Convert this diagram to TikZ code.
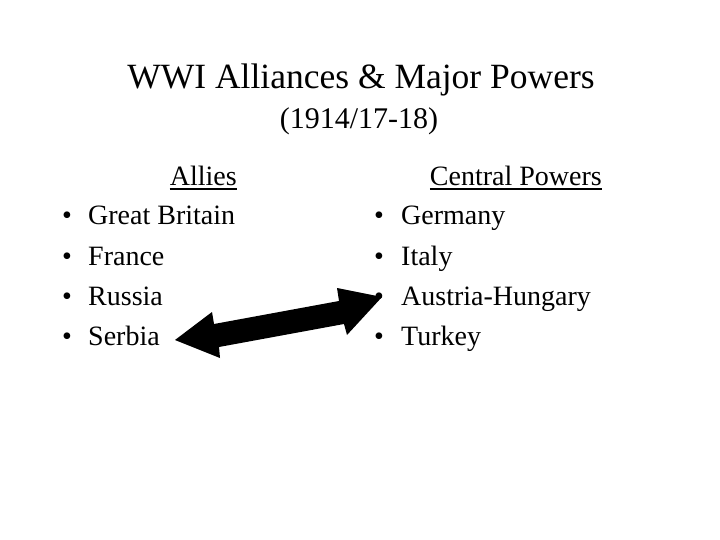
\documentclass[tikz,border=0pt]{standalone}
\usepackage{fontspec}
\setmainfont{Liberation Serif}
\begin{document}
\begin{tikzpicture}[x=1pt,y=-1pt,
  title/.style={anchor=base,inner sep=0pt,font=\fontsize{35.5}{36}\selectfont},
  subtitle/.style={anchor=base,inner sep=0pt,font=\fontsize{30}{30}\selectfont},
  item/.style={anchor=base west,inner sep=0pt,font=\fontsize{28}{28}\selectfont},
  head/.style={anchor=base east,inner sep=0pt,font=\fontsize{28}{28}\selectfont},
  bul/.style={anchor=base,inner sep=0pt,font=\fontsize{28}{28}\selectfont},
  uline/.style={line width=1.4pt}]
\useasboundingbox (0,0) rectangle (720,540);
\fill[white] (0,0) rectangle (720,540);
\node[title] (t) at (361,89) {WWI Alliances \& Major Powers};
\node[subtitle] (st) at (359,129) {(1914/17-18)};
% Allies
\node[head] (allies) at (237,186) {Allies};
\draw[uline] ([yshift=-2.5pt]allies.south west) -- ([yshift=-2.5pt]allies.south east);
\foreach \n/\txt/\y in {a1/Great Britain/225,a2/France/265,a3/Russia/305,a4/Serbia/345}{
  \node[bul] (b\n) at (67,\y) {•};
  \node[item] (\n) at (88,\y) {\txt};
}
% Central
\node[head] (central) at (602,186) {Central Powers};
\draw[uline] ([yshift=-2.5pt]central.south west) -- ([yshift=-2.5pt]central.south east);
\foreach \n/\txt/\y in {c1/Germany/225,c2/Italy/265,c3/Austria-Hungary/305,c4/Turkey/345}{
  \node[bul] (b\n) at (379,\y) {•};
  \node[item] (\n) at (401,\y) {\txt};
}
% double block arrow
\fill[black] (175,340) -- (212,312) -- (214,324) -- (339,301) -- (337,288)
  -- (382,297) -- (347,335) -- (344,324) -- (219,347) -- (220,358) -- cycle;
\end{tikzpicture}
\end{document}
